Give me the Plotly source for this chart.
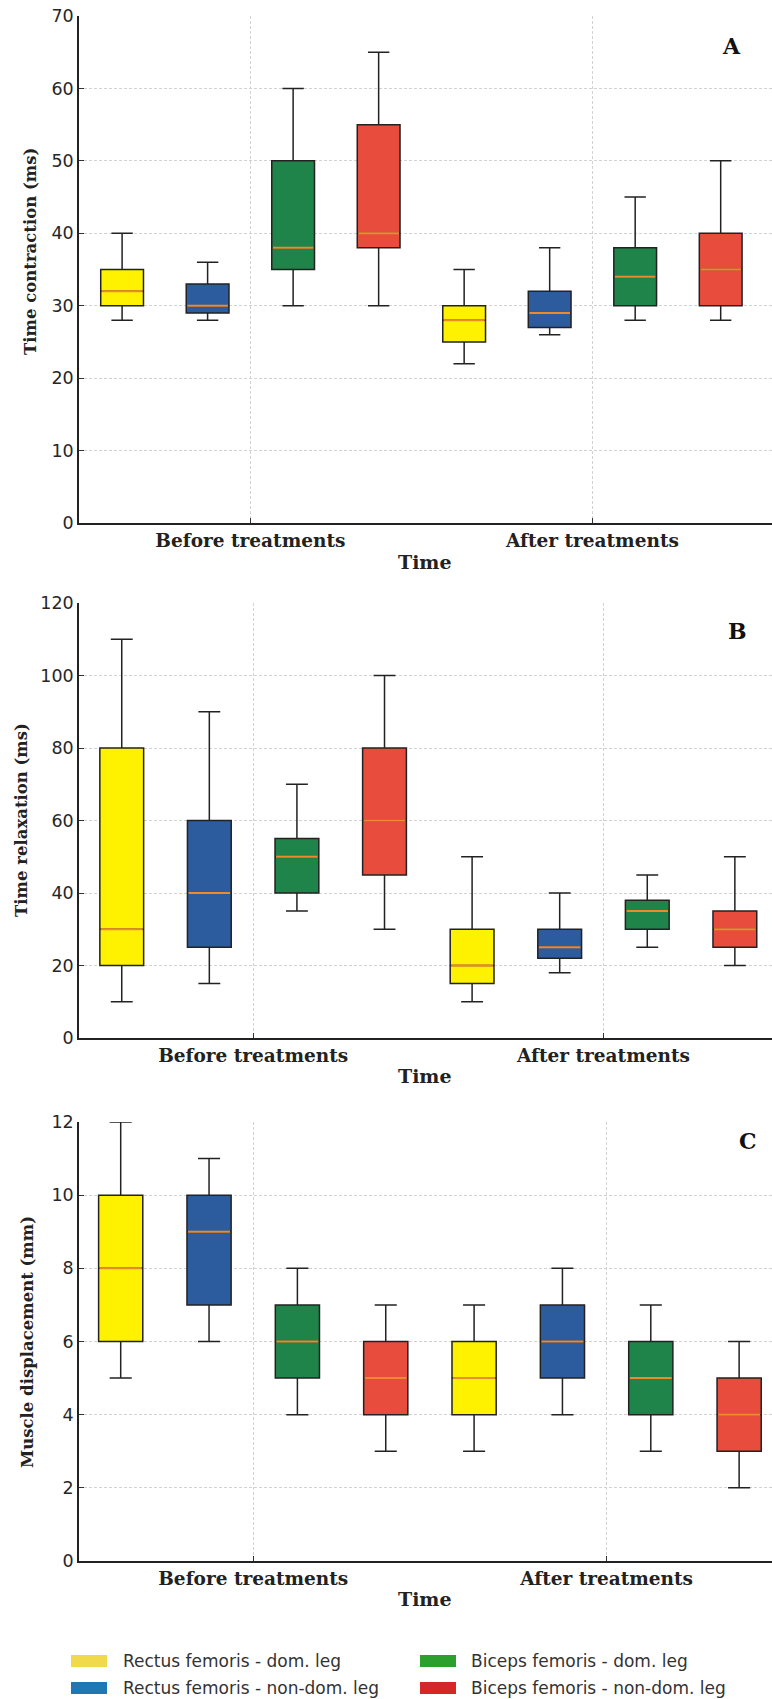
import plotly.graph_objects as go

W, H = 772, 1699

categories = ["Before treatments", "After treatments"]
series_names = [
    "Rectus femoris - dom. leg",
    "Rectus femoris - non-dom. leg",
    "Biceps femoris - dom. leg",
    "Biceps femoris - non-dom. leg",
]
box_colors = ["#FFF200", "#2D5C9E", "#1F8449", "#E74C3C"]
legend_colors = ["#F0DA4B", "#1F77B4", "#2CA02C", "#D62728"]
median_color = "#EE8A2E"

# Each list: one entry per series, each entry = [before, after]
# Panel A: Time contraction (ms)
contraction_low = [[28, 22], [28, 26], [30, 28], [30, 28]]
contraction_q1 = [[30, 25], [29, 27], [35, 30], [38, 30]]
contraction_med = [[32, 28], [30, 29], [38, 34], [40, 35]]
contraction_q3 = [[35, 30], [33, 32], [50, 38], [55, 40]]
contraction_high = [[40, 35], [36, 38], [60, 45], [65, 50]]

# Panel B: Time relaxation (ms)
relaxation_low = [[10, 10], [15, 18], [35, 25], [30, 20]]
relaxation_q1 = [[20, 15], [25, 22], [40, 30], [45, 25]]
relaxation_med = [[30, 20], [40, 25], [50, 35], [60, 30]]
relaxation_q3 = [[80, 30], [60, 30], [55, 38], [80, 35]]
relaxation_high = [[110, 50], [90, 40], [70, 45], [100, 50]]

# Panel C: Muscle displacement (mm)
displacement_low = [[5, 3], [6, 4], [4, 3], [3, 2]]
displacement_q1 = [[6, 4], [7, 5], [5, 4], [4, 3]]
displacement_med = [[8, 5], [9, 6], [6, 5], [5, 4]]
displacement_q3 = [[10, 6], [10, 7], [7, 6], [6, 5]]
displacement_high = [[12, 7], [11, 8], [8, 7], [7, 6]]

y_titles = ["Time contraction (ms)", "Time relaxation (ms)", "Muscle displacement (mm)"]
panel_letters = ["A", "B", "C"]
y_ranges = [[0, 70], [0, 120], [0, 12]]
y_dticks = [10, 20, 2]

offsets = [-0.375, -0.125, 0.125, 0.375]
box_w = 0.125

# pixel layout (top px, bottom px) of each panel's plot area
panel_px = [(16, 523), (603, 1038), (1122, 1561)]
x_ranges = [[-0.501, 1.525], [-0.497, 1.481], [-0.493, 1.468]]
left_px = 79

panels = [
    (contraction_low, contraction_q1, contraction_med, contraction_q3, contraction_high),
    (relaxation_low, relaxation_q1, relaxation_med, relaxation_q3, relaxation_high),
    (displacement_low, displacement_q1, displacement_med, displacement_q3, displacement_high),
]


def py(ypx):
    return 1 - ypx / H


def px(xpx):
    return xpx / W


fig = go.Figure()
layout = {}
annotations = []
shapes = []

grid_kw = dict(showgrid=True, gridcolor="#d2d2d2", griddash="3px,2px", gridwidth=1)
line_kw = dict(showline=True, linecolor="#222222", linewidth=1.5,
               ticks="inside", ticklen=5, tickcolor="#333333",
               zeroline=False, fixedrange=True, automargin=False)

for p, (lo, q1, med, q3, hi) in enumerate(panels):
    ax = "" if p == 0 else str(p + 1)
    xref, yref = "x" + ax, "y" + ax
    for s in range(4):
        xs = [c + offsets[s] for c in range(len(categories))]
        fig.add_trace(go.Box(
            x=xs, q1=q1[s], median=med[s], q3=q3[s],
            lowerfence=lo[s], upperfence=hi[s],
            width=box_w, whiskerwidth=0.5, boxpoints=False,
            fillcolor=box_colors[s], line=dict(color="#222222", width=1.5),
            name=series_names[s], showlegend=False, hoverinfo="skip",
            xaxis=xref, yaxis=yref,
        ))
    for s in range(4):
        mx, my = [], []
        for c in range(len(categories)):
            xc = c + offsets[s]
            mx += [xc - box_w / 2 + 0.003, xc + box_w / 2 - 0.003, None]
            my += [med[s][c], med[s][c], None]
        fig.add_trace(go.Scatter(
            x=mx, y=my, mode="lines", line=dict(color=median_color, width=2),
            showlegend=False, hoverinfo="skip", xaxis=xref, yaxis=yref,
        ))

    top, bot = panel_px[p]
    layout["xaxis" + ax] = dict(
        domain=[px(left_px), 1.0], range=x_ranges[p], anchor=yref,
        tickvals=list(range(len(categories))), ticktext=categories,
        tickfont=dict(family="DejaVu Serif", size=18.5, color="#222222", weight="bold"),
        **grid_kw, **line_kw,
    )
    layout["yaxis" + ax] = dict(
        domain=[py(bot), py(top)], range=y_ranges[p], anchor=xref,
        dtick=y_dticks[p], tick0=0,
        tickfont=dict(family="DejaVu Sans", size=17.5, color="#262626"),
        **grid_kw, **line_kw,
    )

# y-axis titles
ytitle_pos = [(30, 252), (21, 820), (27, 1342)]
for p in range(3):
    annotations.append(dict(
        text=y_titles[p], x=px(ytitle_pos[p][0]), y=py(ytitle_pos[p][1]),
        xref="paper", yref="paper", showarrow=False, textangle=-90,
        xanchor="center", yanchor="middle",
        font=dict(family="DejaVu Serif", size=16.5, color="#222222", weight="bold"),
    ))

# x-axis titles
xtitle_y = [562, 1076, 1599]
for p in range(3):
    annotations.append(dict(
        text="Time", x=px((left_px + W) / 2), y=py(xtitle_y[p]),
        xref="paper", yref="paper", showarrow=False,
        xanchor="center", yanchor="middle",
        font=dict(family="DejaVu Serif", size=19, color="#222222", weight="bold"),
    ))

# panel letters
letter_pos = [(731, 46), (737, 631), (748, 1141)]
for p in range(3):
    annotations.append(dict(
        text=panel_letters[p], x=px(letter_pos[p][0]), y=py(letter_pos[p][1]),
        xref="paper", yref="paper", showarrow=False,
        xanchor="center", yanchor="middle",
        font=dict(family="DejaVu Serif", size=22, color="#111111", weight="bold"),
    ))

# legend (two columns)
leg_cols = [(71, 121), (420, 469)]
leg_rows = [1661, 1688]
for s in range(4):
    col, row = s // 2, s % 2
    xp, xt = leg_cols[col]
    yc = leg_rows[row]
    shapes.append(dict(
        type="rect", xref="paper", yref="paper",
        x0=px(xp), x1=px(xp + 36), y0=py(yc + 6), y1=py(yc - 6),
        fillcolor=legend_colors[s], line=dict(width=0),
    ))
    annotations.append(dict(
        text=series_names[s], x=px(xt), y=py(yc),
        xref="paper", yref="paper", showarrow=False,
        xanchor="left", yanchor="middle",
        font=dict(family="DejaVu Sans", size=17, color="#333333"),
    ))

fig.update_layout(
    width=W, height=H,
    margin=dict(l=0, r=0, t=0, b=0, autoexpand=False),
    paper_bgcolor="white", plot_bgcolor="white",
    boxmode="overlay", showlegend=False,
    annotations=annotations, shapes=shapes,
    **layout,
)

fig.write_html(
    "out.html",
    config={"displayModeBar": False},
    post_script="document.body.style.margin='0';document.body.style.overflow='hidden';",
)
